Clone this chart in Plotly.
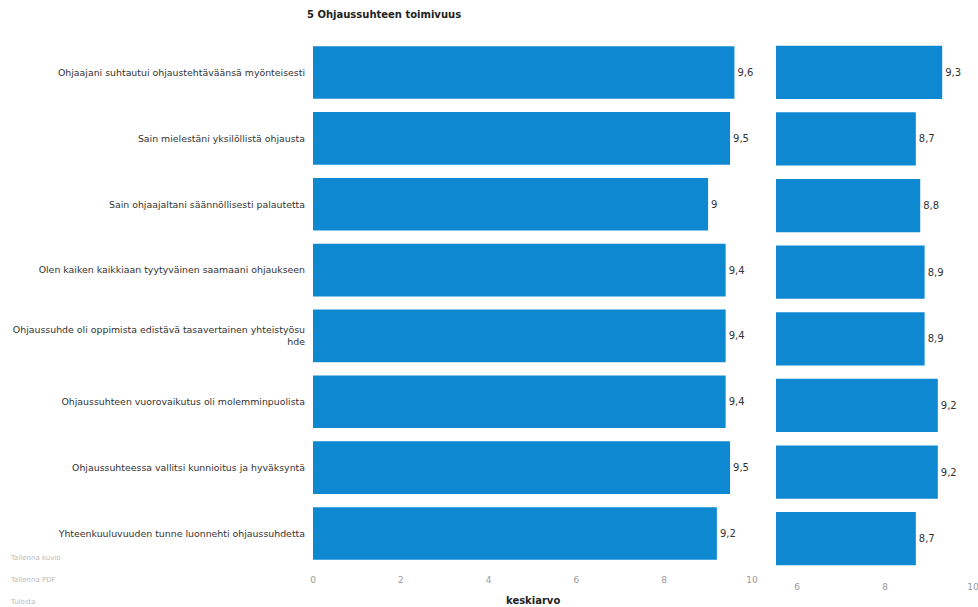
import plotly.graph_objects as go

categories = [
    "Ohjaajani suhtautui ohjaustehtäväänsä myönteisesti",
    "Sain mielestäni yksilöllistä ohjausta",
    "Sain ohjaajaltani säännöllisesti palautetta",
    "Olen kaiken kaikkiaan tyytyväinen saamaani ohjaukseen",
    "Ohjaussuhde oli oppimista edistävä tasavertainen yhteistyösu<br>hde",
    "Ohjaussuhteen vuorovaikutus oli molemminpuolista",
    "Ohjaussuhteessa vallitsi kunnioitus ja hyväksyntä",
    "Yhteenkuuluvuuden tunne luonnehti ohjaussuhdetta",
]
left_values = [9.6, 9.5, 9.0, 9.4, 9.4, 9.4, 9.5, 9.2]
right_values = [9.3, 8.7, 8.8, 8.9, 8.9, 9.2, 9.2, 8.7]
left_ticks = [0, 2, 4, 6, 8, 10]
right_ticks = [6, 8, 10]
title = "5 Ohjaussuhteen toimivuus"
axis_title = "keskiarvo"
side_links = ["Tallenna kuvio", "Tallenna PDF", "Tulosta"]

BAR = "#0f88d2"
FONT = "DejaVu Sans"
W, H = 978, 607
TOP, BOTTOM = 39, 572
PH = BOTTOM - TOP


def fmt(v):
    s = f"{v:.1f}"
    if s.endswith(".0"):
        s = s[:-2]
    return s.replace(".", ",")


def py(pix):
    return (BOTTOM - pix) / PH


fig = go.Figure()
fig.add_trace(go.Bar(
    x=left_values, y=categories, orientation="h",
    marker=dict(color=BAR, line=dict(width=0)),
    text=[fmt(v) for v in left_values], textposition="outside",
    textfont=dict(family=FONT, size=10, color="#333"),
    cliponaxis=False, xaxis="x", yaxis="y", showlegend=False,
    hoverinfo="x+y",
))
fig.add_trace(go.Bar(
    x=right_values, y=categories, orientation="h",
    marker=dict(color=BAR, line=dict(width=0)),
    text=[fmt(v) for v in right_values], textposition="outside",
    textfont=dict(family=FONT, size=10, color="#333"),
    cliponaxis=False, xaxis="x2", yaxis="y2", showlegend=False,
    hoverinfo="x+y",
))

fig.update_layout(
    width=W, height=H,
    margin=dict(l=0, r=0, t=TOP, b=H - BOTTOM, autoexpand=False),
    paper_bgcolor="white", plot_bgcolor="white",
    font=dict(family=FONT, size=9.4, color="#333"),
    bargap=0.2,
    xaxis=dict(domain=[313 / W, 752 / W], range=[0, 10], tickvals=left_ticks,
               showgrid=False, zeroline=False, showline=False,
               tickfont=dict(size=9, color="#999"), ticks="outside",
               ticklen=5, tickcolor="rgba(0,0,0,0)", automargin=False),
    yaxis=dict(domain=[py(566.4), py(39.6)], autorange="reversed",
               categoryorder="array", categoryarray=categories,
               showgrid=False, zeroline=False, showline=False, ticks="",
               ticklabelstandoff=7, tickfont=dict(size=9.4, color="#333"),
               automargin=False),
    xaxis2=dict(domain=[776 / W, 973 / W], range=[5.52, 10],
                tickvals=right_ticks, anchor="y2", showgrid=False,
                zeroline=False, showline=False,
                tickfont=dict(size=9, color="#999"), ticks="outside",
                ticklen=6, tickcolor="rgba(0,0,0,0)", automargin=False,
                ticklabeloverflow="allow"),
    yaxis2=dict(domain=[0, 1], anchor="x2", autorange="reversed",
                categoryorder="array", categoryarray=categories,
                showticklabels=False, showgrid=False, zeroline=False,
                showline=False, ticks="", automargin=False),
    annotations=[
        dict(text=f"<b>{title}</b>", x=305 / W, y=py(14), xref="paper",
             yref="paper", xanchor="left", yanchor="middle", showarrow=False,
             font=dict(family=FONT, size=10, color="#222")),
        dict(text=f"<b>{axis_title}</b>", x=533 / W, y=py(600),
             xref="paper", yref="paper", xanchor="center", yanchor="middle",
             showarrow=False, font=dict(family=FONT, size=10, color="#222")),
    ] + [
        dict(text=t, x=8 / W, y=py(yy), xref="paper", yref="paper",
             xanchor="left", yanchor="middle", showarrow=False,
             font=dict(family=FONT, size=7, color="#bbbbbb"))
        for t, yy in zip(side_links, [558, 580, 602])
    ],
)

fig.write_html("out.html")
